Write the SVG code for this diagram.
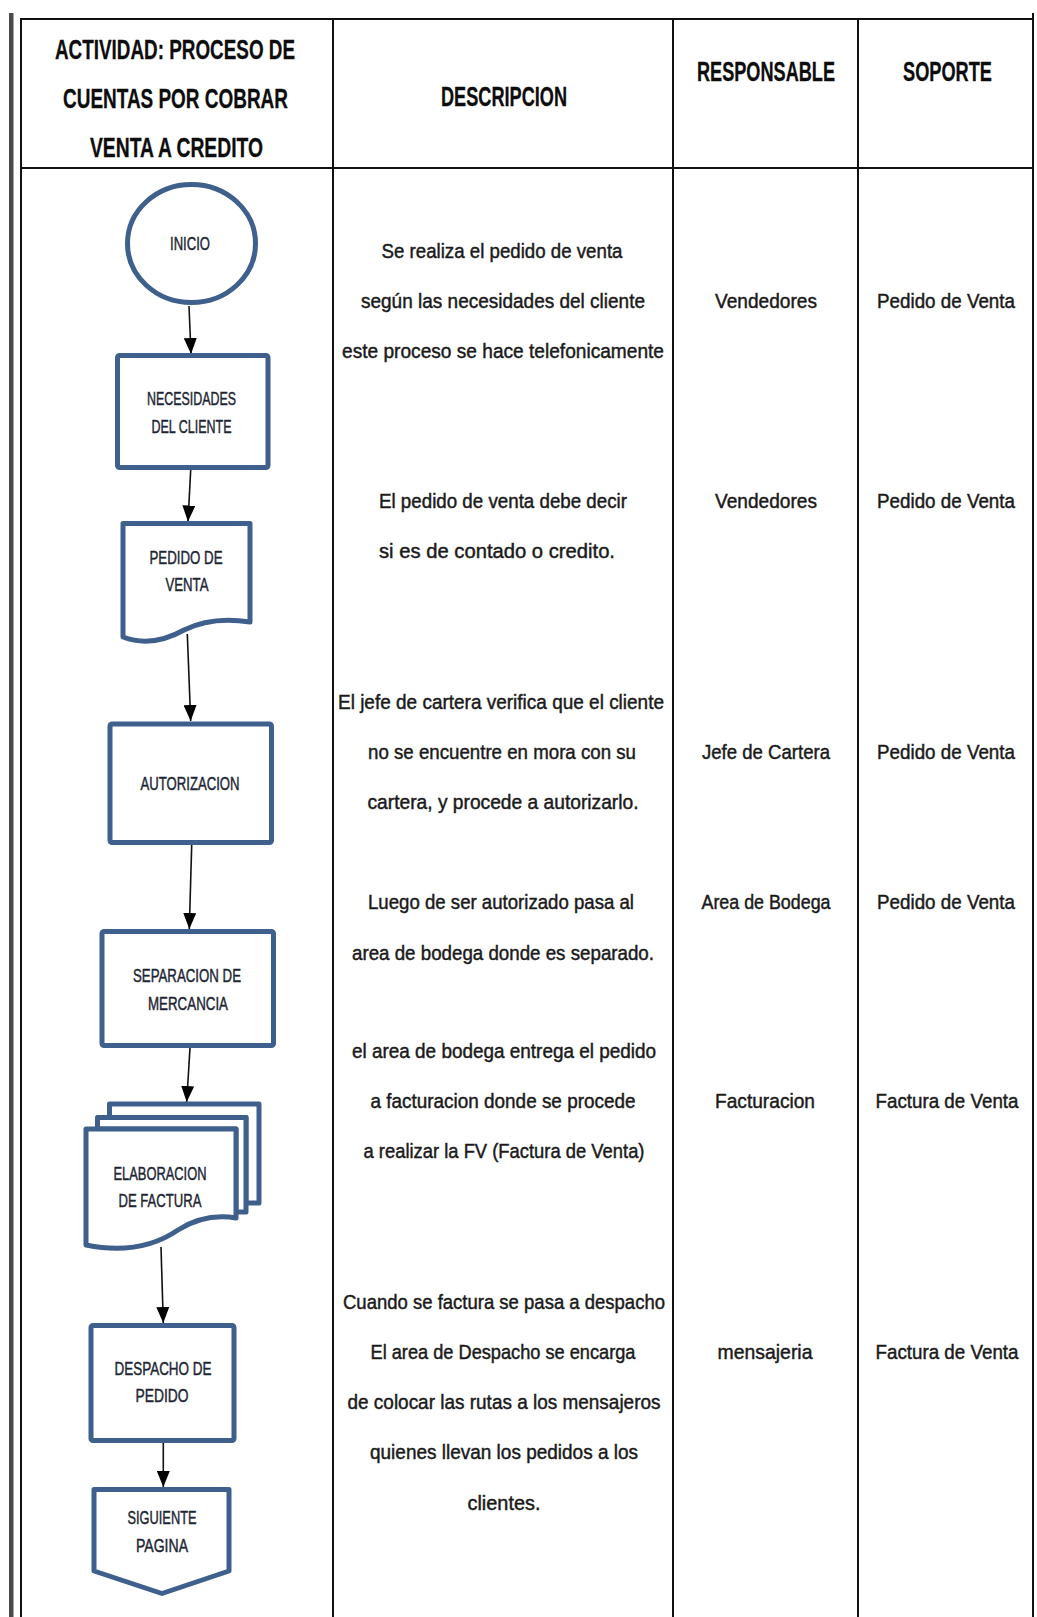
<svg xmlns="http://www.w3.org/2000/svg" width="1037" height="1617" viewBox="0 0 1037 1617">
<style>
text{font-family:"Liberation Sans",Arial,sans-serif;text-anchor:middle;}
.hd{font-size:27px;font-weight:bold;fill:#0d0d0d;stroke:#0d0d0d;stroke-width:0.3;}
.bd{font-size:20.5px;fill:#1a1a1a;stroke:#1a1a1a;stroke-width:0.45;}
.nl{font-size:19px;fill:#1c2533;stroke:#1c2533;stroke-width:0.45;}
.grid{stroke:#111;stroke-width:2;fill:none;}
.shape{fill:#fff;stroke:#3f5f8c;stroke-width:5;stroke-linejoin:round;}
.conn{stroke:#111;stroke-width:1.6;fill:none;}
</style>
<defs>
<marker id="arr" markerUnits="userSpaceOnUse" markerWidth="16" markerHeight="13" refX="16" refY="6.5" orient="auto">
<path d="M0,0 L16,6.5 L0,13 Z" fill="#000"/>
</marker>
</defs>
<rect width="1037" height="1617" fill="#fff"/>
<g id="table">
<rect x="9" y="13" width="4.5" height="1604" fill="#4a4a4a"/>
<line class="grid" x1="21" y1="19" x2="1033" y2="19" stroke-width="2.5"/>
<line class="grid" x1="21" y1="168" x2="1033" y2="168" stroke-width="2.5"/>
<line class="grid" x1="21" y1="18" x2="21" y2="1617"/>
<line class="grid" x1="333" y1="18" x2="333" y2="1617"/>
<line class="grid" x1="673" y1="18" x2="673" y2="1617"/>
<line class="grid" x1="858" y1="18" x2="858" y2="1617"/>
<line class="grid" x1="1033" y1="13" x2="1033" y2="1617" stroke-width="2.5"/>
<text class="hd" x="175" y="59" textLength="240" lengthAdjust="spacingAndGlyphs">ACTIVIDAD: PROCESO DE</text>
<text class="hd" x="175.5" y="108" textLength="225" lengthAdjust="spacingAndGlyphs">CUENTAS POR COBRAR</text>
<text class="hd" x="176.5" y="157" textLength="173" lengthAdjust="spacingAndGlyphs">VENTA A CREDITO</text>
<text class="hd" x="504" y="106" textLength="126" lengthAdjust="spacingAndGlyphs">DESCRIPCION</text>
<text class="hd" x="766" y="81" textLength="138" lengthAdjust="spacingAndGlyphs">RESPONSABLE</text>
<text class="hd" x="947.5" y="81" textLength="89" lengthAdjust="spacingAndGlyphs">SOPORTE</text>

<text class="bd" x="502" y="258" textLength="241" lengthAdjust="spacingAndGlyphs">Se realiza el pedido de venta</text>
<text class="bd" x="503" y="308" textLength="284" lengthAdjust="spacingAndGlyphs">según las necesidades del cliente</text>
<text class="bd" x="503" y="358" textLength="322" lengthAdjust="spacingAndGlyphs">este proceso se hace telefonicamente</text>
<text class="bd" x="503" y="508" textLength="248" lengthAdjust="spacingAndGlyphs">El pedido de venta debe decir</text>
<text class="bd" x="497" y="558" textLength="236" lengthAdjust="spacingAndGlyphs">si es de contado o credito.</text>
<text class="bd" x="501" y="709" textLength="326" lengthAdjust="spacingAndGlyphs">El jefe de cartera verifica que el cliente</text>
<text class="bd" x="502" y="759" textLength="268" lengthAdjust="spacingAndGlyphs">no se encuentre en mora con su</text>
<text class="bd" x="503" y="809" textLength="271" lengthAdjust="spacingAndGlyphs">cartera, y procede a autorizarlo.</text>
<text class="bd" x="501" y="909" textLength="266" lengthAdjust="spacingAndGlyphs">Luego de ser autorizado pasa al</text>
<text class="bd" x="503" y="960" textLength="302" lengthAdjust="spacingAndGlyphs">area de bodega donde es separado.</text>
<text class="bd" x="504" y="1058" textLength="304" lengthAdjust="spacingAndGlyphs">el area de bodega entrega el pedido</text>
<text class="bd" x="503" y="1108" textLength="265" lengthAdjust="spacingAndGlyphs">a facturacion donde se procede</text>
<text class="bd" x="504" y="1158" textLength="281" lengthAdjust="spacingAndGlyphs">a realizar la FV (Factura de Venta)</text>
<text class="bd" x="504" y="1309" textLength="322" lengthAdjust="spacingAndGlyphs">Cuando se factura se pasa a despacho</text>
<text class="bd" x="503" y="1359" textLength="265" lengthAdjust="spacingAndGlyphs">El area de Despacho se encarga</text>
<text class="bd" x="504" y="1409" textLength="313" lengthAdjust="spacingAndGlyphs">de colocar las rutas a los mensajeros</text>
<text class="bd" x="504" y="1459" textLength="268" lengthAdjust="spacingAndGlyphs">quienes llevan los pedidos a los</text>
<text class="bd" x="504" y="1510" textLength="73" lengthAdjust="spacingAndGlyphs">clientes.</text>

<text class="bd" x="766" y="308" textLength="102" lengthAdjust="spacingAndGlyphs">Vendedores</text>
<text class="bd" x="766" y="508" textLength="102" lengthAdjust="spacingAndGlyphs">Vendedores</text>
<text class="bd" x="766" y="759" textLength="128" lengthAdjust="spacingAndGlyphs">Jefe de Cartera</text>
<text class="bd" x="766" y="909" textLength="129" lengthAdjust="spacingAndGlyphs">Area de Bodega</text>
<text class="bd" x="765" y="1108" textLength="100" lengthAdjust="spacingAndGlyphs">Facturacion</text>
<text class="bd" x="765" y="1359" textLength="95" lengthAdjust="spacingAndGlyphs">mensajeria</text>

<text class="bd" x="946" y="308" textLength="138" lengthAdjust="spacingAndGlyphs">Pedido de Venta</text>
<text class="bd" x="946" y="508" textLength="138" lengthAdjust="spacingAndGlyphs">Pedido de Venta</text>
<text class="bd" x="946" y="759" textLength="138" lengthAdjust="spacingAndGlyphs">Pedido de Venta</text>
<text class="bd" x="946" y="909" textLength="138" lengthAdjust="spacingAndGlyphs">Pedido de Venta</text>
<text class="bd" x="947" y="1108" textLength="143" lengthAdjust="spacingAndGlyphs">Factura de Venta</text>
<text class="bd" x="947" y="1359" textLength="143" lengthAdjust="spacingAndGlyphs">Factura de Venta</text>
</g>

<g id="connectors">
<line class="conn" x1="189" y1="306" x2="191" y2="354" marker-end="url(#arr)"/>
<line class="conn" x1="190.7" y1="470" x2="188" y2="521.5" marker-end="url(#arr)"/>
<line class="conn" x1="187.3" y1="634" x2="190.7" y2="721" marker-end="url(#arr)"/>
<line class="conn" x1="191.7" y1="845" x2="189.3" y2="929" marker-end="url(#arr)"/>
<line class="conn" x1="190" y1="1048" x2="186.7" y2="1102" marker-end="url(#arr)"/>
<line class="conn" x1="161" y1="1247" x2="163.3" y2="1323" marker-end="url(#arr)"/>
<line class="conn" x1="163.3" y1="1443" x2="163.3" y2="1487" marker-end="url(#arr)"/>
</g>

<g id="inicio">
<ellipse class="shape" cx="191.5" cy="243.5" rx="64" ry="59"/>
<text class="nl" x="190" y="250" textLength="40" lengthAdjust="spacingAndGlyphs">INICIO</text>
</g>
<g id="necesidades">
<rect class="shape" x="117.5" y="355.5" width="150.5" height="112" rx="2"/>
<text class="nl" x="191.5" y="405" textLength="89" lengthAdjust="spacingAndGlyphs">NECESIDADES</text>
<text class="nl" x="191.5" y="433" textLength="80" lengthAdjust="spacingAndGlyphs">DEL CLIENTE</text>
</g>
<g id="pedido">
<path class="shape" d="M123,523.5 H250 V622 Q212,616 184,630 Q152,648 123,637 Z"/>
<text class="nl" x="186" y="564" textLength="73" lengthAdjust="spacingAndGlyphs">PEDIDO DE</text>
<text class="nl" x="187" y="591" textLength="43" lengthAdjust="spacingAndGlyphs">VENTA</text>
</g>
<g id="autorizacion">
<rect class="shape" x="110" y="724" width="161.5" height="118.5" rx="2"/>
<text class="nl" x="190" y="790" textLength="99" lengthAdjust="spacingAndGlyphs">AUTORIZACION</text>
</g>
<g id="separacion">
<rect class="shape" x="102" y="931.5" width="171.5" height="114" rx="2"/>
<text class="nl" x="187" y="982" textLength="108" lengthAdjust="spacingAndGlyphs">SEPARACION  DE</text>
<text class="nl" x="188" y="1010" textLength="80" lengthAdjust="spacingAndGlyphs">MERCANCIA</text>
</g>
<g id="elaboracion">
<path class="shape" d="M109.5,1117.5 V1104 H259 V1203 H246 V1117.5 Z"/>
<path class="shape" d="M97.5,1129 V1117.5 H246 V1212 H236 V1129 Z"/>
<path class="shape" d="M86,1129 H236 V1218 Q205,1213 178,1230 Q140,1256 86,1245 Z"/>
<text class="nl" x="160" y="1180" textLength="93" lengthAdjust="spacingAndGlyphs">ELABORACION</text>
<text class="nl" x="160" y="1207" textLength="83" lengthAdjust="spacingAndGlyphs">DE FACTURA</text>
</g>
<g id="despacho">
<rect class="shape" x="91" y="1325.5" width="143" height="115" rx="2"/>
<text class="nl" x="163" y="1375" textLength="97" lengthAdjust="spacingAndGlyphs">DESPACHO DE</text>
<text class="nl" x="162" y="1402" textLength="53" lengthAdjust="spacingAndGlyphs">PEDIDO</text>
</g>
<g id="siguiente">
<path class="shape" d="M94,1489.5 H229 V1571 L162,1593.5 L94,1571 Z"/>
<text class="nl" x="162" y="1524" textLength="69" lengthAdjust="spacingAndGlyphs">SIGUIENTE</text>
<text class="nl" x="162" y="1552" textLength="52" lengthAdjust="spacingAndGlyphs">PAGINA</text>
</g>
</svg>
